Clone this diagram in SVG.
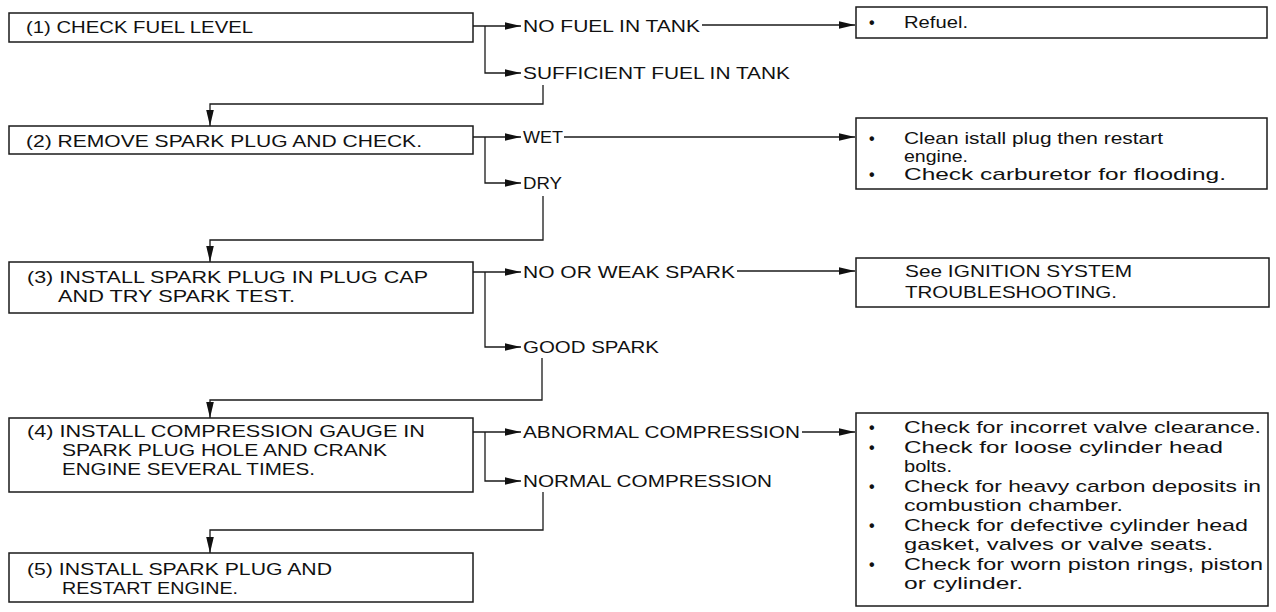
<svg xmlns="http://www.w3.org/2000/svg" width="1276" height="612" viewBox="0 0 1276 612">
<style>
.box{fill:#fff;stroke:#1a1a1a;stroke-width:1.5}
.t{font-family:"Liberation Sans",Arial,sans-serif;font-size:17px;fill:#111}
.b{font-family:"Liberation Sans",Arial,sans-serif;font-size:16px;font-weight:bold;fill:#111}
.c{fill:none;stroke:#1a1a1a;stroke-width:1.3}
.a{marker-end:url(#ah)}
</style>
<defs>
<marker id="ah" markerUnits="userSpaceOnUse" viewBox="-20 -5 21 10" refX="0" refY="0" markerWidth="21" markerHeight="10" orient="auto">
<path d="M0,0 L-16,-3.8 L-16,3.8 Z" fill="#111"/>
</marker>
</defs>
<rect width="1276" height="612" fill="#fff"/>

<g id="step1">
<rect class="box" x="9" y="13" width="464" height="29"/>
<text class="t" x="26" y="33" textLength="227" lengthAdjust="spacingAndGlyphs">(1) CHECK FUEL LEVEL</text>
</g>
<g id="refuel">
<rect class="box" x="856" y="7" width="411" height="31"/>
<text class="b" x="869" y="28">•</text>
<text class="t" x="904" y="28" textLength="64" lengthAdjust="spacingAndGlyphs">Refuel.</text>
</g>
<g id="step2">
<rect class="box" x="9" y="126" width="464" height="28"/>
<text class="t" x="26" y="147" textLength="396" lengthAdjust="spacingAndGlyphs">(2) REMOVE SPARK PLUG AND CHECK.</text>
</g>
<g id="wet-action">
<rect class="box" x="856" y="118" width="411" height="71"/>
<text class="b" x="869" y="144">•</text>
<text class="t" x="904" y="144" textLength="259" lengthAdjust="spacingAndGlyphs">Clean istall plug then restart</text>
<text class="t" x="904" y="162" textLength="64" lengthAdjust="spacingAndGlyphs">engine.</text>
<text class="b" x="869" y="180">•</text>
<text class="t" x="904" y="180" textLength="322" lengthAdjust="spacingAndGlyphs">Check carburetor for flooding.</text>
</g>
<g id="step3">
<rect class="box" x="9" y="262" width="464" height="51"/>
<text class="t" x="27" y="283" textLength="401" lengthAdjust="spacingAndGlyphs">(3) INSTALL SPARK PLUG IN PLUG CAP</text>
<text class="t" x="58" y="302" textLength="237" lengthAdjust="spacingAndGlyphs">AND TRY SPARK TEST.</text>
</g>
<g id="ignition">
<rect class="box" x="856" y="258" width="413" height="49"/>
<text class="t" x="905" y="277" textLength="227" lengthAdjust="spacingAndGlyphs">See IGNITION SYSTEM</text>
<text class="t" x="905" y="298" textLength="212" lengthAdjust="spacingAndGlyphs">TROUBLESHOOTING.</text>
</g>
<g id="step4">
<rect class="box" x="9" y="418" width="464" height="74"/>
<text class="t" x="27" y="437" textLength="398" lengthAdjust="spacingAndGlyphs">(4) INSTALL COMPRESSION GAUGE IN</text>
<text class="t" x="62" y="456" textLength="325" lengthAdjust="spacingAndGlyphs">SPARK PLUG HOLE AND CRANK</text>
<text class="t" x="62" y="475" textLength="253" lengthAdjust="spacingAndGlyphs">ENGINE SEVERAL TIMES.</text>
</g>
<g id="step5">
<rect class="box" x="9" y="553" width="464" height="49"/>
<text class="t" x="27" y="575" textLength="305" lengthAdjust="spacingAndGlyphs">(5) INSTALL SPARK PLUG AND</text>
<text class="t" x="62" y="594" textLength="176" lengthAdjust="spacingAndGlyphs">RESTART ENGINE.</text>
</g>
<g id="compression-checks">
<rect class="box" x="856" y="413" width="412" height="193"/>
<text class="b" x="869" y="433">•</text>
<text class="t" x="904" y="433" textLength="357" lengthAdjust="spacingAndGlyphs">Check for incorret valve clearance.</text>
<text class="b" x="869" y="452.5">•</text>
<text class="t" x="904" y="452.5" textLength="319" lengthAdjust="spacingAndGlyphs">Check for loose cylinder head</text>
<text class="t" x="904" y="472" textLength="48" lengthAdjust="spacingAndGlyphs">bolts.</text>
<text class="b" x="869" y="491.5">•</text>
<text class="t" x="904" y="491.5" textLength="357" lengthAdjust="spacingAndGlyphs">Check for heavy carbon deposits in</text>
<text class="t" x="904" y="511" textLength="219" lengthAdjust="spacingAndGlyphs">combustion chamber.</text>
<text class="b" x="869" y="530.5">•</text>
<text class="t" x="904" y="530.5" textLength="344" lengthAdjust="spacingAndGlyphs">Check for defective cylinder head</text>
<text class="t" x="904" y="550" textLength="309" lengthAdjust="spacingAndGlyphs">gasket, valves or valve seats.</text>
<text class="b" x="869" y="569.5">•</text>
<text class="t" x="904" y="569.5" textLength="359" lengthAdjust="spacingAndGlyphs">Check for worn piston rings, piston</text>
<text class="t" x="904" y="589" textLength="119" lengthAdjust="spacingAndGlyphs">or cylinder.</text>
</g>

<g id="connectors">
<path class="c a" d="M473,26 H521"/>
<path class="c a" d="M485,26 V73 H521"/>
<path class="c a" d="M702,25 H855"/>
<path class="c a" d="M543,85 V104 H210 V126"/>
<path class="c a" d="M473,137 H521"/>
<path class="c a" d="M485,137 V183 H521"/>
<path class="c a" d="M564,137 H855"/>
<path class="c a" d="M543,196 V240 H210 V262"/>
<path class="c a" d="M473,272 H521"/>
<path class="c a" d="M485,272 V347 H521"/>
<path class="c a" d="M737,271 H855"/>
<path class="c a" d="M542,358 V400 H210 V418"/>
<path class="c a" d="M473,432 H521"/>
<path class="c a" d="M485,432 V481 H521"/>
<path class="c a" d="M802,432 H855"/>
<path class="c a" d="M543,492 V530 H210 V553"/>
<text class="t" x="523" y="31.5" textLength="177" lengthAdjust="spacingAndGlyphs">NO FUEL IN TANK</text>
<text class="t" x="523" y="79" textLength="267" lengthAdjust="spacingAndGlyphs">SUFFICIENT FUEL IN TANK</text>
<text class="t" x="523" y="143" textLength="40" lengthAdjust="spacingAndGlyphs">WET</text>
<text class="t" x="523" y="189" textLength="39" lengthAdjust="spacingAndGlyphs">DRY</text>
<text class="t" x="523" y="278" textLength="212" lengthAdjust="spacingAndGlyphs">NO OR WEAK SPARK</text>
<text class="t" x="523" y="353" textLength="136" lengthAdjust="spacingAndGlyphs">GOOD SPARK</text>
<text class="t" x="523" y="438" textLength="277" lengthAdjust="spacingAndGlyphs">ABNORMAL COMPRESSION</text>
<text class="t" x="523" y="487" textLength="249" lengthAdjust="spacingAndGlyphs">NORMAL COMPRESSION</text>
</g>
</svg>
